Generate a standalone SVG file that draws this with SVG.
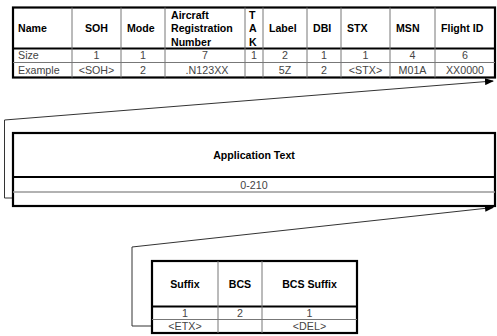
<svg xmlns="http://www.w3.org/2000/svg" width="497" height="336" viewBox="0 0 497 336">
<style>
.outer{fill:#fff;stroke:#000;stroke-width:2.2}
.thick{stroke:#000;stroke-width:2}
.thin{stroke:#777;stroke-width:1}
.grey{stroke:#999;stroke-width:1.5}
.h{font-family:"Liberation Sans",Arial,sans-serif;font-size:10.6px;font-weight:bold;fill:#000}
.t{font-family:"Liberation Sans",Arial,sans-serif;font-size:10.7px;fill:#444}
.c{text-anchor:middle}
.conn{fill:none;stroke:#333;stroke-width:1}
</style>
<defs>
<marker id="arr" markerWidth="9" markerHeight="7" refX="8" refY="3.5" orient="auto" markerUnits="userSpaceOnUse">
<path d="M0,0 L9,3.5 L0,7 z" fill="#000"/>
</marker>
</defs>
<rect width="497" height="336" fill="#fff"/>

<g id="connectors">
<path class="conn" d="M13,198 H4.5 V120 L493,81" marker-end="url(#arr)"/>
<path class="conn" d="M152,326 H132 V247 L493,207.5" marker-end="url(#arr)"/>
</g>

<g id="header-table">
<rect class="outer" x="13" y="7.5" width="482" height="70"/>
<line class="thick" x1="13" y1="48.5" x2="495" y2="48.5"/>
<line class="thin" x1="13" y1="62.5" x2="495" y2="62.5"/>
<g class="thin">
<line x1="72" y1="7.5" x2="72" y2="77.5"/>
<line x1="121" y1="7.5" x2="121" y2="77.5"/>
<line x1="165" y1="7.5" x2="165" y2="77.5"/>
<line x1="245" y1="7.5" x2="245" y2="77.5"/>
<line x1="263" y1="7.5" x2="263" y2="77.5"/>
<line x1="307" y1="7.5" x2="307" y2="77.5"/>
<line x1="341" y1="7.5" x2="341" y2="77.5"/>
<line x1="390" y1="7.5" x2="390" y2="77.5"/>
<line x1="435" y1="7.5" x2="435" y2="77.5"/>
</g>
<text class="h" x="18" y="32">Name</text>
<text class="h c" x="96.5" y="32">SOH</text>
<text class="h" x="127" y="32">Mode</text>
<text class="h" x="171" y="19">Aircraft</text>
<text class="h" x="171" y="32">Registration</text>
<text class="h" x="171" y="46">Number</text>
<text class="h" x="249" y="19">T</text>
<text class="h" x="249" y="32">A</text>
<text class="h" x="249" y="46">K</text>
<text class="h" x="269" y="32">Label</text>
<text class="h" x="313" y="32">DBI</text>
<text class="h" x="347" y="32">STX</text>
<text class="h" x="396" y="32">MSN</text>
<text class="h" x="441" y="32">Flight ID</text>

<text class="t" x="18" y="59">Size</text>
<text class="t c" x="96.5" y="59">1</text>
<text class="t c" x="143" y="59">1</text>
<text class="t c" x="205" y="59">7</text>
<text class="t c" x="254" y="59">1</text>
<text class="t c" x="285" y="59">2</text>
<text class="t c" x="324" y="59">1</text>
<text class="t c" x="365.5" y="59">1</text>
<text class="t c" x="412.5" y="59">4</text>
<text class="t c" x="465" y="59">6</text>

<text class="t" x="18" y="74">Example</text>
<text class="t c" x="96.5" y="74">&lt;SOH&gt;</text>
<text class="t c" x="143" y="74">2</text>
<text class="t c" x="207" y="74">.N123XX</text>
<text class="t c" x="285" y="74">5Z</text>
<text class="t c" x="324" y="74">2</text>
<text class="t c" x="365.5" y="74">&lt;STX&gt;</text>
<text class="t c" x="412.5" y="74">M01A</text>
<text class="t c" x="465" y="74">XX0000</text>
</g>

<g id="application-text">
<rect class="outer" x="13" y="133" width="482" height="73"/>
<line class="thick" x1="13" y1="177" x2="495" y2="177"/>
<line class="grey" x1="13" y1="192" x2="495" y2="192"/>
<text class="h c" x="254" y="159">Application Text</text>
<text class="t c" x="254" y="189">0-210</text>
</g>

<g id="trailer-table">
<rect class="outer" x="152" y="261" width="205" height="72"/>
<line class="thick" x1="152" y1="306.5" x2="357" y2="306.5"/>
<line class="thin" x1="152" y1="319.5" x2="357" y2="319.5"/>
<line class="thin" x1="218" y1="261" x2="218" y2="333"/>
<line class="thin" x1="262" y1="261" x2="262" y2="333"/>
<text class="h c" x="185" y="288">Suffix</text>
<text class="h c" x="240" y="288">BCS</text>
<text class="h c" x="309.5" y="288">BCS Suffix</text>
<text class="t c" x="185" y="317">1</text>
<text class="t c" x="240" y="317">2</text>
<text class="t c" x="309.5" y="317">1</text>
<text class="t c" x="185" y="330">&lt;ETX&gt;</text>
<text class="t c" x="309.5" y="330">&lt;DEL&gt;</text>
</g>
</svg>
